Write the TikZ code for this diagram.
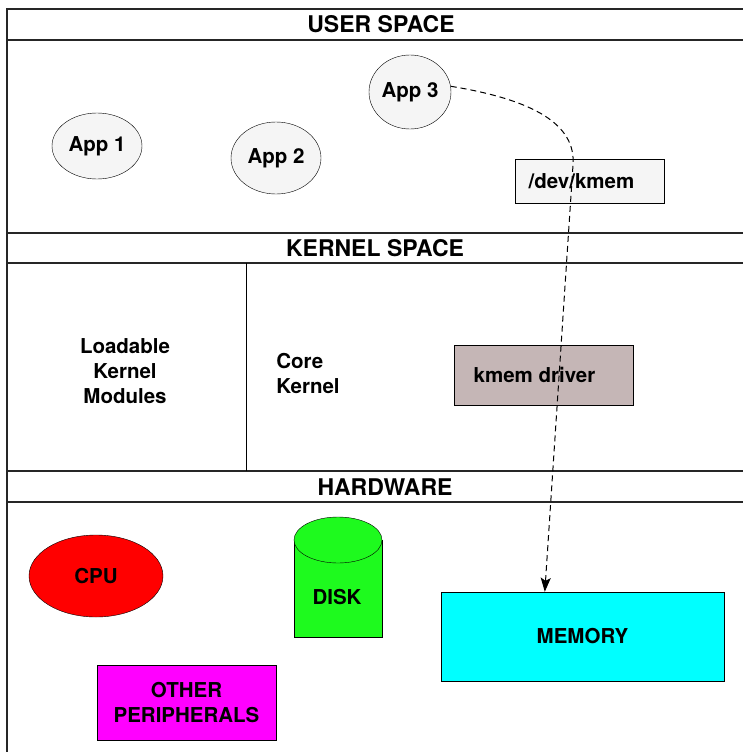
\documentclass[tikz,border=0pt]{standalone}
\usepackage{fontspec}
\setmainfont{TeX Gyre Heros}
\usetikzlibrary{shapes.geometric,arrows.meta}

\definecolor{appgray}{RGB}{245,245,245}
\definecolor{drvgray}{RGB}{197,182,182}
\definecolor{diskgreen}{RGB}{30,250,30}
\definecolor{memcyan}{RGB}{0,255,255}
\definecolor{perimag}{RGB}{255,0,255}
\definecolor{cpured}{RGB}{255,0,0}

\begin{document}
\begin{tikzpicture}[x=1pt,y=-1pt,
  lbl/.style={font=\fontsize{20.5}{25}\selectfont\bfseries, align=center},
  hdr/.style={font=\fontsize{23}{25}\selectfont\bfseries},
  app/.style={lbl, ellipse, draw, fill=appgray, inner sep=0pt},
  blk/.style={lbl, rectangle, draw, inner sep=0pt}]
\useasboundingbox (0,0) rectangle (743,752);

% frame and bands
\draw[line width=1.3pt, black!85] (7,752)--(7,9)--(743,9);
\foreach \y in {40,233,263,471,502} \draw[line width=1.3pt, black!85] (7,\y)--(743,\y);
\draw[line width=1pt] (246,263)--(246,471);

\node[hdr] (user) at (381,24) {USER SPACE};
\node[hdr] (kern) at (375,248) {KERNEL SPACE};
\node[hdr] (hw) at (385,487) {HARDWARE};

% user space
\node[app, minimum width=90, minimum height=66] (app1) at (97,146) {App 1};
\node[app, minimum width=90, minimum height=72] (app2) at (276,158) {App 2};
\node[app, minimum width=82, minimum height=74] (app3) at (410,92) {App 3};
\node[blk, fill=appgray, minimum width=149, minimum height=44] (devkmem) at (589.5,181) {/dev/kmem\hspace*{16pt}};

% kernel space
\node[lbl] (lkm) at (125,371) {Loadable\\Kernel\\Modules};
\node[lbl, align=left] (core) at (308,373) {Core\\Kernel};
\node[blk, fill=drvgray, minimum width=179, minimum height=60] (kmemdrv) at (543.5,375) {kmem driver\hspace*{18pt}};

% hardware
\node[lbl, ellipse, draw, fill=cpured, minimum width=134, minimum height=82, inner sep=0pt] (cpu) at (96,576) {CPU};
\filldraw[fill=diskgreen] (294,540) rectangle (382,637);
\filldraw[fill=diskgreen] (338,540) ellipse [x radius=44, y radius=23];
\node[lbl] (disk) at (337,597) {DISK};
\node[blk, fill=memcyan, minimum width=283, minimum height=89] (memory) at (582.5,636.5) {MEMORY};
\node[blk, fill=perimag, minimum width=179, minimum height=75] (other) at (186.5,702.5) {OTHER\\PERIPHERALS};

% access path
\coordinate (bend) at (573,165);
\draw[line width=1pt, dash pattern=on 6pt off 4pt, -{Stealth[length=14pt,width=10pt,inset=3pt]}]
  (app3.8) .. controls (535,100) and (576,125) .. (bend) -- ([xshift=104]memory.north west);
\end{tikzpicture}
\end{document}
